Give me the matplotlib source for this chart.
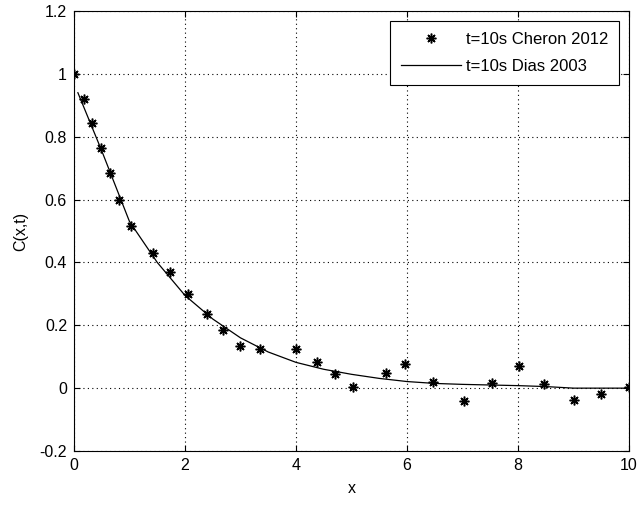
import matplotlib
matplotlib.use("Agg")
import matplotlib.pyplot as plt

# Data
x_cheron = [0.0, 0.18, 0.32, 0.49, 0.65, 0.81, 1.03, 1.42, 1.73, 2.05, 2.4, 2.68, 2.99,
            3.35, 4.0, 4.37, 4.70, 5.03, 5.62, 5.97, 6.47, 7.03, 7.54, 8.01, 8.47, 9.0, 9.49, 10.0]
y_cheron = [1.0, 0.92, 0.843, 0.764, 0.685, 0.60, 0.516, 0.43, 0.37, 0.30, 0.236, 0.185, 0.134,
            0.124, 0.124, 0.083, 0.046, 0.003, 0.049, 0.076, 0.021, -0.041, 0.017, 0.072, 0.012,
            -0.037, -0.018, 0.003]

x_dias = [0.07, 0.5, 1.0, 1.5, 2.0, 2.5, 3.0, 3.5, 4.0, 4.5, 5.0, 5.5, 6.0, 6.5, 7.0,
          7.5, 8.0, 8.5, 9.0, 9.5, 10.0]
y_dias = [0.94, 0.755, 0.53, 0.40, 0.295, 0.22, 0.16, 0.115, 0.082, 0.06, 0.044, 0.031, 0.021,
          0.015, 0.012, 0.01, 0.008, 0.005, 0.0, 0.0, 0.0]

xticks = [0, 2, 4, 6, 8, 10]
yticks = [-0.2, 0, 0.2, 0.4, 0.6, 0.8, 1, 1.2]
ytick_labels = ["-0.2", "0", "0.2", "0.4", "0.6", "0.8", "1", "1.2"]

plt.rcParams['font.family'] = ['Liberation Sans', 'DejaVu Sans']
fig = plt.figure(figsize=(6.4, 5.09), dpi=100)
ax = fig.add_axes([74/640, 1 - 451/509, (629-74)/640, (451-11)/509])

ax.plot(x_cheron, y_cheron, linestyle='none', marker=(8, 2, 0), color='black',
        markersize=7, markeredgewidth=1.1, label='t=10s Cheron 2012')
ax.plot(x_dias, y_dias, color='black', linewidth=0.9, label='t=10s Dias 2003')

ax.set_xlim(0, 10)
ax.set_ylim(-0.2, 1.2)
ax.set_xticks(xticks)
ax.set_xticklabels([str(t) for t in xticks])
ax.set_yticks(yticks)
ax.set_yticklabels(ytick_labels)
ax.grid(True, color='black', linestyle=(0, (1, 3)), linewidth=0.8)
ax.tick_params(direction='in', top=True, right=True, labelsize=11.5, length=4, pad=5)
ax.set_xlabel('x', fontsize=11.5, labelpad=6)
ax.set_ylabel('C(x,t)', fontsize=11.5, labelpad=8)
for s in ax.spines.values():
    s.set_linewidth(0.8)

leg = ax.legend(loc='upper right', fontsize=12, frameon=True, fancybox=False,
                edgecolor='black', framealpha=1, borderaxespad=0.6, handlelength=3.6,
                borderpad=0.65, labelspacing=0.75, handletextpad=0.3)
leg.get_frame().set_linewidth(0.8)

fig.savefig('out.png', dpi=100)
